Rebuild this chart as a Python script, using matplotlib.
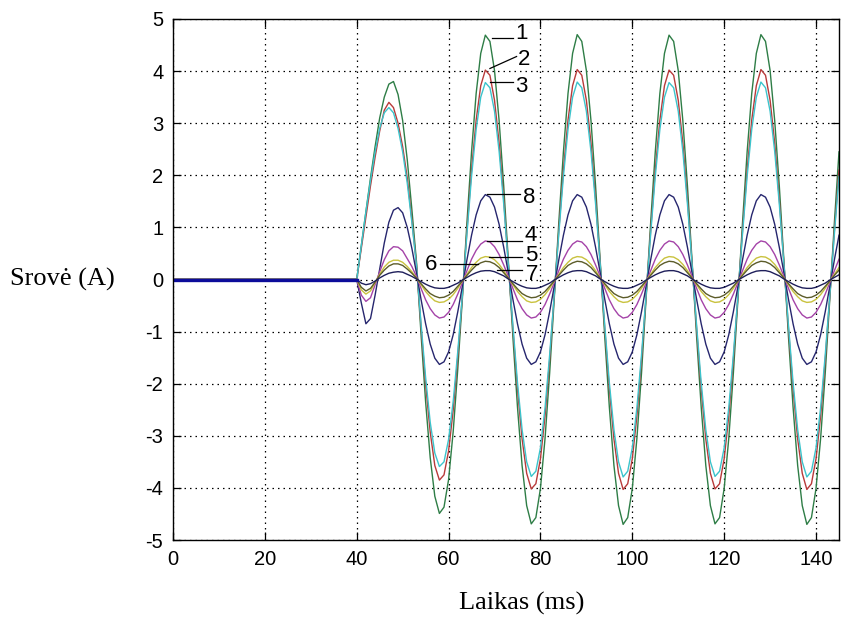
import numpy as np
import matplotlib
matplotlib.use("Agg")
import matplotlib.pyplot as plt

plt.rcParams['font.family'] = ['Liberation Sans', 'DejaVu Sans']
plt.rcParams['axes.unicode_minus'] = False

# time samples (ms): trigger-off level at 0, then 1 ms samples from 40 to 145
T_MS = [0] + list(range(40, 146))

# currents (A)
I1 = [0.0,
      0.0, 0.65, 1.3, 1.95, 2.55, 3.1, 3.5, 3.75, 3.8, 3.55, 3.05, 2.3, 1.35,
      0.35, -1.05, -2.35, -3.42, -4.16, -4.49, -4.37, -3.84, -2.92, -1.72,
      -0.37, 1.10, 2.45, 3.57, 4.34,
      4.69, 4.57, 4.01, 3.05, 1.80, 0.37, -1.10, -2.45, -3.57, -4.34,
      -4.69, -4.57, -4.01, -3.05, -1.80, -0.37, 1.10, 2.45, 3.57, 4.34,
      4.70, 4.57, 4.01, 3.05, 1.80, 0.37, -1.10, -2.45, -3.57, -4.34,
      -4.70, -4.57, -4.01, -3.05, -1.80, -0.37, 1.10, 2.45, 3.57, 4.34,
      4.69, 4.57, 4.01, 3.05, 1.80, 0.37, -1.10, -2.45, -3.57, -4.34,
      -4.69, -4.57, -4.01, -3.05, -1.80, -0.37, 1.10, 2.45, 3.57, 4.34,
      4.70, 4.57, 4.01, 3.05, 1.80, 0.37, -1.10, -2.45, -3.57, -4.34,
      -4.70, -4.57, -4.01, -3.05, -1.80, -0.37, 1.10, 2.45]
I2 = [0.0,
      0.0, 0.6, 1.2, 1.8, 2.35, 2.85, 3.25, 3.4, 3.3, 3.0, 2.55, 1.95, 1.15,
      0.30, -0.90, -2.01, -2.93, -3.57, -3.85, -3.75, -3.29, -2.51, -1.48,
      -0.31, 0.94, 2.10, 3.06, 3.72,
      4.02, 3.92, 3.44, 2.62, 1.54, 0.31, -0.94, -2.10, -3.06, -3.72,
      -4.02, -3.92, -3.44, -2.62, -1.54, -0.31, 0.94, 2.10, 3.06, 3.72,
      4.03, 3.92, 3.44, 2.62, 1.54, 0.31, -0.94, -2.10, -3.06, -3.72,
      -4.03, -3.92, -3.44, -2.62, -1.54, -0.31, 0.94, 2.10, 3.06, 3.72,
      4.02, 3.92, 3.44, 2.62, 1.54, 0.31, -0.94, -2.10, -3.06, -3.72,
      -4.02, -3.92, -3.44, -2.62, -1.54, -0.31, 0.94, 2.10, 3.06, 3.72,
      4.03, 3.92, 3.44, 2.62, 1.54, 0.31, -0.94, -2.10, -3.06, -3.72,
      -4.03, -3.92, -3.44, -2.62, -1.54, -0.31, 0.94, 2.10]
I3 = [0.0,
      0.0, 0.65, 1.3, 1.9, 2.45, 2.9, 3.2, 3.3, 3.2, 2.9, 2.45, 1.85, 1.1,
      0.28, -0.84, -1.88, -2.74, -3.33, -3.59, -3.50, -3.07, -2.34, -1.38,
      -0.30, 0.88, 1.98, 2.88, 3.50,
      3.78, 3.68, 3.23, 2.46, 1.45, 0.30, -0.88, -1.98, -2.88, -3.50,
      -3.78, -3.68, -3.23, -2.46, -1.45, -0.30, 0.88, 1.98, 2.88, 3.50,
      3.79, 3.68, 3.23, 2.46, 1.45, 0.30, -0.88, -1.98, -2.88, -3.50,
      -3.79, -3.68, -3.23, -2.46, -1.45, -0.30, 0.88, 1.98, 2.88, 3.50,
      3.78, 3.68, 3.23, 2.46, 1.45, 0.30, -0.88, -1.98, -2.88, -3.50,
      -3.78, -3.68, -3.23, -2.46, -1.45, -0.30, 0.88, 1.98, 2.88, 3.50,
      3.79, 3.68, 3.23, 2.46, 1.45, 0.30, -0.88, -1.98, -2.88, -3.50,
      -3.79, -3.68, -3.23, -2.46, -1.45, -0.30, 0.88, 1.98]
I8 = [0.0,
      0.0, -0.45, -0.85, -0.75, -0.3, 0.2, 0.7, 1.1, 1.33, 1.38, 1.28, 1.0, 0.6,
      0.13, -0.38, -0.85, -1.24, -1.51, -1.63, -1.58, -1.39, -1.06, -0.62,
      -0.13, 0.38, 0.85, 1.24, 1.51,
      1.63, 1.58, 1.39, 1.06, 0.62, 0.13, -0.38, -0.85, -1.24, -1.51,
      -1.63, -1.58, -1.39, -1.06, -0.62, -0.13, 0.38, 0.85, 1.24, 1.51,
      1.63, 1.58, 1.39, 1.06, 0.62, 0.13, -0.38, -0.85, -1.24, -1.51,
      -1.63, -1.58, -1.39, -1.06, -0.62, -0.13, 0.38, 0.85, 1.24, 1.51,
      1.63, 1.58, 1.39, 1.06, 0.62, 0.13, -0.38, -0.85, -1.24, -1.51,
      -1.63, -1.58, -1.39, -1.06, -0.62, -0.13, 0.38, 0.85, 1.24, 1.51,
      1.63, 1.58, 1.39, 1.06, 0.62, 0.13, -0.38, -0.85, -1.24, -1.51,
      -1.63, -1.58, -1.39, -1.06, -0.62, -0.13, 0.38, 0.85]
I4 = [0.0,
      0.0, -0.3, -0.42, -0.35, -0.1, 0.15, 0.38, 0.55, 0.63, 0.62, 0.55, 0.4, 0.25,
      0.06, -0.17, -0.39, -0.56, -0.68, -0.74, -0.72, -0.63, -0.48, -0.28,
      -0.06, 0.17, 0.39, 0.56, 0.68,
      0.74, 0.72, 0.63, 0.48, 0.28, 0.06, -0.17, -0.39, -0.56, -0.68,
      -0.74, -0.72, -0.63, -0.48, -0.28, -0.06, 0.17, 0.39, 0.56, 0.68,
      0.74, 0.72, 0.63, 0.48, 0.28, 0.06, -0.17, -0.39, -0.56, -0.68,
      -0.74, -0.72, -0.63, -0.48, -0.28, -0.06, 0.17, 0.39, 0.56, 0.68,
      0.74, 0.72, 0.63, 0.48, 0.28, 0.06, -0.17, -0.39, -0.56, -0.68,
      -0.74, -0.72, -0.63, -0.48, -0.28, -0.06, 0.17, 0.39, 0.56, 0.68,
      0.74, 0.72, 0.63, 0.48, 0.28, 0.06, -0.17, -0.39, -0.56, -0.68,
      -0.74, -0.72, -0.63, -0.48, -0.28, -0.06, 0.17, 0.39]
I5 = [0.0,
      0.0, -0.2, -0.28, -0.22, -0.06, 0.1, 0.24, 0.33, 0.37, 0.37, 0.33, 0.25, 0.15,
      0.03, -0.10, -0.23, -0.33, -0.41, -0.44, -0.43, -0.38, -0.29, -0.17,
      -0.03, 0.10, 0.23, 0.33, 0.41,
      0.44, 0.43, 0.38, 0.29, 0.17, 0.03, -0.10, -0.23, -0.33, -0.41,
      -0.44, -0.43, -0.38, -0.29, -0.17, -0.03, 0.10, 0.23, 0.33, 0.41,
      0.44, 0.43, 0.38, 0.29, 0.17, 0.03, -0.10, -0.23, -0.33, -0.41,
      -0.44, -0.43, -0.38, -0.29, -0.17, -0.03, 0.10, 0.23, 0.33, 0.41,
      0.44, 0.43, 0.38, 0.29, 0.17, 0.03, -0.10, -0.23, -0.33, -0.41,
      -0.44, -0.43, -0.38, -0.29, -0.17, -0.03, 0.10, 0.23, 0.33, 0.41,
      0.44, 0.43, 0.38, 0.29, 0.17, 0.03, -0.10, -0.23, -0.33, -0.41,
      -0.44, -0.43, -0.38, -0.29, -0.17, -0.03, 0.10, 0.23]
I6 = [0.0,
      0.0, -0.15, -0.22, -0.17, -0.05, 0.08, 0.18, 0.26, 0.3, 0.3, 0.27, 0.2, 0.12,
      0.03, -0.08, -0.18, -0.27, -0.32, -0.35, -0.34, -0.30, -0.23, -0.13,
      -0.03, 0.08, 0.18, 0.27, 0.32,
      0.35, 0.34, 0.30, 0.23, 0.13, 0.03, -0.08, -0.18, -0.27, -0.32,
      -0.35, -0.34, -0.30, -0.23, -0.13, -0.03, 0.08, 0.18, 0.27, 0.32,
      0.35, 0.34, 0.30, 0.23, 0.13, 0.03, -0.08, -0.18, -0.27, -0.32,
      -0.35, -0.34, -0.30, -0.23, -0.13, -0.03, 0.08, 0.18, 0.27, 0.32,
      0.35, 0.34, 0.30, 0.23, 0.13, 0.03, -0.08, -0.18, -0.27, -0.32,
      -0.35, -0.34, -0.30, -0.23, -0.13, -0.03, 0.08, 0.18, 0.27, 0.32,
      0.35, 0.34, 0.30, 0.23, 0.13, 0.03, -0.08, -0.18, -0.27, -0.32,
      -0.35, -0.34, -0.30, -0.23, -0.13, -0.03, 0.08, 0.18]
I7 = [0.0,
      0.0, -0.07, -0.1, -0.08, -0.03, 0.03, 0.08, 0.12, 0.14, 0.15, 0.14, 0.1, 0.06,
      0.01, -0.04, -0.09, -0.13, -0.16, -0.17, -0.17, -0.15, -0.11, -0.07,
      -0.01, 0.04, 0.09, 0.13, 0.16,
      0.17, 0.17, 0.15, 0.11, 0.07, 0.01, -0.04, -0.09, -0.13, -0.16,
      -0.17, -0.17, -0.15, -0.11, -0.07, -0.01, 0.04, 0.09, 0.13, 0.16,
      0.17, 0.17, 0.15, 0.11, 0.07, 0.01, -0.04, -0.09, -0.13, -0.16,
      -0.17, -0.17, -0.15, -0.11, -0.07, -0.01, 0.04, 0.09, 0.13, 0.16,
      0.17, 0.17, 0.15, 0.11, 0.07, 0.01, -0.04, -0.09, -0.13, -0.16,
      -0.17, -0.17, -0.15, -0.11, -0.07, -0.01, 0.04, 0.09, 0.13, 0.16,
      0.17, 0.17, 0.15, 0.11, 0.07, 0.01, -0.04, -0.09, -0.13, -0.16,
      -0.17, -0.17, -0.15, -0.11, -0.07, -0.01, 0.04, 0.09]

SERIES = [I1, I2, I3, I8, I4, I5, I6, I7]
COLORS = ['#2e7d46', '#b83a3a', '#3cc4cc', '#26266e', '#a443a8', '#c9c23e', '#5c5c2a', '#1e1e5a']

# curve labels: name, leader line (x0, y0, x1, y1), text position
LABEL_NAMES = ['1', '2', '3', '8', '4', '5', '6', '7']
LEADERS = [(69.4, 4.63, 74.0, 4.63), (69.0, 4.05, 74.8, 4.28), (69.0, 3.80, 74.1, 3.80),
           (68.3, 1.65, 75.5, 1.65), (68.3, 0.745, 75.9, 0.745), (68.7, 0.43, 75.9, 0.43),
           (58.1, 0.30, 66.5, 0.30), (70.5, 0.18, 75.9, 0.18)]
LABEL_POS = [(75.8, 4.72), (76.4, 4.23), (75.8, 3.71), (77.5, 1.57), (77.9, 0.85),
             (77.9, 0.47), (56.2, 0.28), (78.2, 0.09)]

fig = plt.figure(figsize=(8.43, 6.24), dpi=100)
ax = fig.add_axes([173/843, 1 - 540/624, (839 - 173)/843, (540 - 19)/624])

for s, c in zip(SERIES, COLORS):
    ax.plot(T_MS, s, color=c, lw=1.0)

# pre-trigger zero level drawn thick blue on top
ax.plot(T_MS[:2], I7[:2], color='#0c0c9a', lw=2.4)

for name, (x0, y0, x1, y1), (tx, ty) in zip(LABEL_NAMES, LEADERS, LABEL_POS):
    ax.plot([x0, x1], [y0, y1], color='k', lw=0.9)
    ax.text(tx, ty, name, fontsize=16, ha='center', va='center')

ax.set_xlim(0, 145)
ax.set_ylim(-5, 5)
ax.set_xticks(np.arange(0, 141, 20))
ax.set_yticks(np.arange(-5, 6, 1))
ax.grid(True, color='k', linestyle=(0, (1.2, 3.2)), linewidth=0.9)
ax.tick_params(direction='in', top=True, right=True, length=6, width=0.9,
               labelsize=14.5, pad=7, colors='k')
for sp in ax.spines.values():
    sp.set_linewidth(1.0)

fig.text(10/843, 1 - 279/624, 'Srovė (A)', family=['Liberation Serif', 'DejaVu Serif'],
         fontsize=19, ha='left', va='center')
fig.text(522/843, 1 - 603/624, 'Laikas (ms)', family=['Liberation Serif', 'DejaVu Serif'],
         fontsize=19, ha='center', va='center')

fig.savefig('out.png', dpi=100)
